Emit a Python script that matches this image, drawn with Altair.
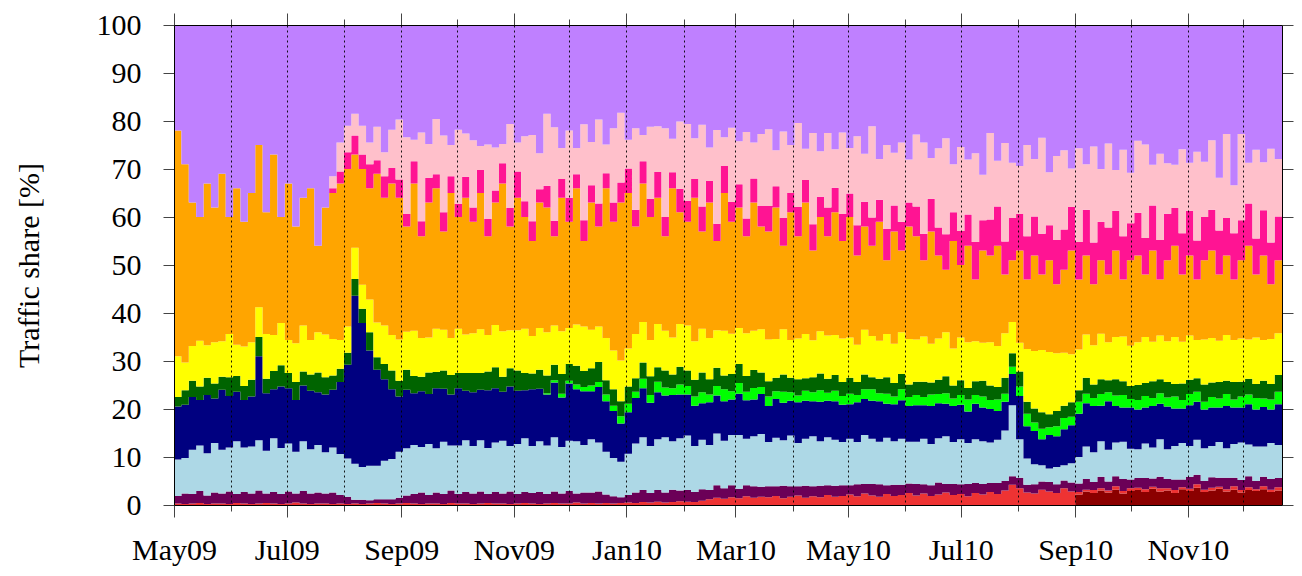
import altair as alt
import pandas as pd

# ---- time axis: one value every 4 days starting 1 May 2009 ----
START = "2009-05-01"
STEP_DAYS = 4

# ---- traffic shares [%] (bottom band first) ----
dark_red = [
    0, 0, 0, 0, 0, 0, 0, 0, 0, 0,
    0, 0, 0, 0, 0, 0, 0, 0, 0, 0,
    0, 0, 0, 0, 0, 0, 0, 0, 0, 0,
    0, 0, 0, 0, 0, 0, 0, 0, 0, 0,
    0, 0, 0, 0, 0, 0, 0, 0, 0, 0,
    0, 0, 0, 0, 0, 0, 0, 0, 0, 0,
    0, 0, 0, 0, 0, 0, 0, 0, 0, 0,
    0, 0, 0, 0, 0, 0, 0, 0, 0, 0,
    0, 0, 0, 0, 0, 0, 0, 0, 0, 0,
    0, 0, 0, 0, 0, 0, 0, 0, 0, 0,
    0, 0, 0, 0, 0, 0, 0, 0, 0, 0,
    0, 0, 0, 0, 0, 0, 0, 0, 0, 0,
    0, 0, 2.2, 2.8, 2.5, 3.0, 2.6, 3.2, 2.4, 2.9,
    3.1, 2.7, 3.4, 2.8, 3.0, 2.5, 3.3, 2.9, 3.6, 2.7,
    3.0, 3.4, 2.8, 3.2, 2.6, 3.1, 2.9, 3.3, 2.7, 3.0,
]
red = [
    0.3, 0.2, 0.3, 0.4, 0.2, 0.3, 0.3, 0.2, 0.4, 0.3,
    0.2, 0.3, 0.4, 0.3, 0.2, 0.3, 0.5, 0.3, 0.2, 0.3,
    0.3, 0.2, 0.3, 0.2, 0.3, 0.2, 0.3, 0.4, 0.3, 0.2,
    0.3, 0.4, 0.3, 0.2, 0.3, 0.3, 0.2, 0.4, 0.3, 0.3,
    0.2, 0.3, 0.4, 0.3, 0.3, 0.2, 0.3, 0.4, 0.3, 0.2,
    0.3, 0.4, 0.3, 0.3, 0.5, 0.3, 0.4, 0.3, 0.4, 0.3,
    0.4, 0.5, 0.4, 0.6, 0.5, 0.7, 0.5, 0.6, 0.8, 0.7,
    0.6, 0.9, 1.2, 1.5, 1.3, 1.6, 1.4, 1.8, 1.5, 1.7,
    1.6, 1.9, 1.4, 1.7, 2.0, 1.5, 1.8, 1.6, 2.1, 1.7,
    1.9, 2.2, 1.8, 2.4, 2.0, 1.7, 2.3, 1.9, 2.1, 2.5,
    2.0, 2.4, 1.9, 2.2, 2.6, 2.1, 2.3, 1.8, 2.5, 2.2,
    2.7, 2.3, 3.0, 4.2, 3.5, 2.6, 2.4, 3.2, 2.8, 2.5,
    3.5, 2.8, 0.5, 0.4, 0.6, 0.5, 0.4, 0.7, 0.5, 0.6,
    0.5, 0.6, 0.4, 0.7, 0.5, 0.6, 0.4, 0.5, 0.7, 0.5,
    0.6, 0.4, 0.5, 0.7, 0.5, 0.6, 0.4, 0.6, 0.5, 0.7,
]
purple = [
    1.6, 2.2, 2.0, 2.5, 1.8, 2.3, 2.1, 2.6, 1.9, 2.4,
    2.2, 2.7, 2.0, 2.4, 2.1, 2.5, 1.9, 2.6, 2.2, 2.3,
    2.1, 2.4, 1.8, 1.5, 0.8, 0.9, 0.7, 0.8, 0.9, 1.0,
    1.2, 1.6, 2.0, 2.4, 1.8, 2.3, 2.1, 2.6, 2.0, 2.4,
    2.2, 2.5, 1.9, 2.4, 2.1, 2.6, 2.0, 2.3, 2.2, 2.5,
    2.0, 2.4, 2.1, 2.6, 1.9, 2.3, 2.2, 2.5, 1.8, 1.5,
    1.2, 1.6, 2.2, 2.5, 2.0, 2.4, 2.1, 2.6, 2.2, 2.4,
    2.1, 2.4, 1.9, 2.6, 2.2, 2.5, 2.0, 2.3, 2.4, 2.1,
    2.3, 2.0, 2.6, 2.2, 1.9, 2.5, 2.1, 2.4, 2.0, 2.3,
    2.2, 1.9, 2.5, 2.0, 2.4, 2.6, 1.8, 2.3, 2.1, 2.0,
    2.4, 1.9, 2.2, 2.5, 1.8, 2.3, 2.0, 2.6, 2.1, 2.2,
    1.9, 2.3, 2.0, 1.8, 2.2, 1.6, 1.9, 1.7, 2.0, 1.8,
    1.6, 1.9, 1.8, 2.2, 1.7, 2.4, 1.9, 2.1, 2.5, 1.8,
    2.0, 2.3, 1.7, 2.4, 1.9, 2.2, 1.6, 2.5, 2.0, 1.8,
    2.2, 1.9, 2.4, 1.8, 2.1, 2.3, 1.7, 2.0, 2.2, 1.9,
]
light_blue = [
    7.6, 7.4, 9.2, 9.5, 8.8, 10.3, 9.1, 9.2, 11.0, 9.3,
    9.8, 10.5, 8.9, 11.2, 9.6, 10.0, 8.7, 10.4, 9.2, 9.9,
    8.6, 9.4, 8.5, 8.0, 7.5, 6.8, 7.2, 7.0, 8.0, 8.4,
    9.6, 9.8, 10.2, 9.5, 10.6, 9.2, 10.9, 9.4, 10.1, 10.8,
    9.9, 10.7, 9.6, 10.3, 11.0, 9.5, 10.4, 11.2, 9.8, 10.6,
    10.1, 11.3, 9.7, 10.5, 10.9, 9.9, 11.1, 10.2, 8.9, 8.0,
    7.4, 8.6, 10.2, 11.0, 9.8, 10.6, 11.5, 10.1, 10.9, 11.4,
    9.6, 10.3, 9.4, 10.8, 9.9, 10.5, 11.2, 9.7, 10.4, 11.0,
    9.2, 10.1, 9.5, 10.6, 9.0, 9.8, 10.4, 9.3, 10.0, 9.6,
    9.0, 9.7, 8.8, 10.2, 9.4, 8.9, 9.9, 9.1, 9.6, 8.7,
    8.8, 9.5, 8.6, 9.2, 9.9, 8.7, 9.4, 8.5, 9.1, 8.9,
    8.4, 9.0, 10.5, 14.8, 8.0, 5.5, 4.2, 3.4, 2.8, 3.6,
    3.2, 4.0, 5.5, 6.8, 6.2, 7.4, 6.6, 7.0, 7.8, 6.4,
    6.0, 7.2, 6.5, 7.8, 6.2, 7.0, 7.6, 6.4, 7.3, 6.8,
    6.5, 7.4, 6.1, 7.0, 7.8, 6.6, 7.2, 6.3, 7.5, 6.9,
]
navy = [
    11.0, 11.1, 11.0, 9.5, 12.1, 9.3, 12.5, 10.7, 10.3, 9.9,
    10.4, 17.5, 12.0, 10.2, 12.8, 11.5, 10.8, 11.6, 12.2, 11.0,
    12.0, 12.0, 15.0, 19.5, 35.0, 30.0, 24.0, 20.0, 17.0, 14.5,
    11.5, 12.2, 10.8, 11.6, 10.4, 12.5, 11.0, 10.6, 11.9, 10.3,
    11.2, 10.5, 12.0, 11.3, 10.2, 12.4, 11.1, 10.0, 11.8, 10.9,
    10.6, 11.4, 10.3, 11.9, 10.8, 11.2, 10.0, 11.6, 10.5, 9.8,
    8.0, 8.6, 9.5, 10.2, 9.0, 9.8, 8.7, 9.6, 9.1, 8.5,
    8.4, 7.6, 8.9, 7.9, 8.2, 7.4, 8.6, 8.0, 7.7, 8.3,
    7.5, 8.1, 7.8, 7.2, 8.5, 7.9, 7.3, 8.2, 7.6, 8.0,
    7.8, 7.2, 8.3, 7.5, 7.9, 8.4, 7.1, 7.7, 8.0, 7.4,
    7.6, 7.0, 7.9, 7.3, 6.8, 7.5, 7.2, 6.6, 7.4, 7.0,
    7.0, 6.0, 6.0, 6.5, 9.0, 6.7, 6.9, 5.4, 7.0, 6.4,
    7.5, 7.9, 9.0, 9.0, 9.6, 7.4, 10.1, 7.6, 7.1, 8.6,
    8.3, 7.5, 8.6, 7.4, 8.9, 7.8, 7.2, 8.5, 7.9, 8.1,
    8.0, 7.2, 8.8, 7.6, 7.3, 8.4, 7.7, 8.2, 7.0, 8.5,
]
lime = [
    0, 0, 0, 0, 0, 0, 0, 0, 0, 0,
    0, 0, 0, 0, 0, 0, 0, 0, 0, 0,
    0, 0, 0, 0, 0, 0, 0, 0, 0, 0,
    0, 0, 0, 0, 0, 0, 0, 0, 0, 0,
    0, 0, 0, 0, 0, 0, 0, 0, 0, 0,
    0.3, 0.5, 0.8, 0.6, 1.0, 0.9, 1.2, 1.0, 1.4, 1.1,
    1.5, 1.8, 1.3, 2.0, 1.6, 2.2, 1.7, 1.4, 2.1, 1.8,
    1.9, 2.3, 1.6, 2.0, 2.5, 1.7, 2.2, 1.8, 2.4, 1.5,
    2.0, 1.6, 2.3, 1.8, 1.4, 2.1, 1.9, 2.4, 1.7, 2.2,
    1.8, 2.2, 1.5, 2.0, 2.4, 1.7, 2.1, 1.6, 2.3, 1.9,
    2.1, 1.7, 2.4, 1.9, 2.2, 1.6, 2.0, 2.5, 1.8, 2.3,
    1.9, 2.4, 1.7, 1.5, 2.0, 2.6, 1.8, 2.2, 1.6, 2.1,
    2.3, 1.8, 2.5, 2.0, 1.7, 2.4, 1.9, 2.2, 2.6, 1.8,
    2.0, 2.4, 1.7, 2.2, 1.9, 2.5, 1.8, 2.3, 2.1, 1.6,
    2.2, 1.9, 2.5, 1.7, 2.3, 2.0, 2.4, 1.8, 2.1, 2.6,
]
dark_green = [
    2.0, 3.0, 3.4, 2.8, 3.6, 3.1, 2.7, 3.9, 3.3, 2.9,
    3.5, 4.0, 3.0, 3.8, 4.4, 3.2, 3.7, 2.9, 3.4, 4.1,
    3.6, 3.0, 2.8, 2.5, 3.5, 3.0, 3.8, 2.6, 3.2, 3.9,
    3.3, 4.2, 3.6, 3.0, 4.5, 3.4, 3.8, 4.1, 3.2, 3.7,
    4.0, 3.5, 3.9, 4.4, 3.1, 3.8, 4.2, 3.6, 3.3, 4.0,
    3.7, 3.2, 4.1, 3.5, 3.9, 3.3, 3.6, 4.2, 3.0, 3.4,
    3.1, 3.6, 2.8, 3.4, 3.9, 3.0, 3.5, 2.9, 3.7, 3.2,
    3.5, 4.1, 3.2, 3.8, 2.9, 3.6, 4.0, 3.3, 3.7, 3.0,
    3.2, 2.8, 3.6, 3.0, 3.4, 2.6, 3.1, 3.5, 2.9, 3.3,
    2.9, 3.3, 2.7, 3.1, 2.5, 3.0, 3.4, 2.8, 3.2, 2.6,
    2.8, 3.2, 2.5, 3.0, 3.5, 2.7, 3.1, 2.4, 2.9, 3.3,
    3.0, 2.6, 3.3, 2.8, 3.1, 2.5, 2.9, 3.4, 2.7, 3.2,
    2.6, 3.0, 2.4, 3.3, 2.8, 3.1, 2.5, 3.4, 2.9, 2.7,
    3.1, 2.7, 3.5, 2.9, 3.2, 2.6, 3.4, 3.0, 2.8, 3.6,
    3.0, 3.4, 2.8, 3.6, 3.1, 3.3, 2.9, 3.7, 3.2, 3.5,
]
yellow = [
    8.5, 5.8, 7.2, 9.5, 6.8, 8.6, 7.4, 9.0, 6.5, 8.2,
    7.8, 6.2, 9.3, 7.5, 8.8, 6.9, 8.1, 9.6, 7.2, 8.4,
    8.9, 7.6, 6.0, 5.5, 6.5, 5.0, 6.8, 7.2, 8.0, 7.4,
    8.6, 7.9, 9.4, 8.1, 7.3, 9.0, 8.5, 7.7, 9.2, 8.0,
    8.3, 9.1, 7.6, 8.8, 9.5, 7.9, 8.4, 9.2, 7.8, 8.7,
    9.0, 8.2, 8.9, 7.5, 8.6, 9.3, 8.0, 7.4, 8.8, 8.1,
    8.5, 7.9, 9.2, 8.4, 7.6, 9.0, 8.3, 7.7, 8.9, 9.4,
    8.0, 9.1, 8.6, 7.8, 9.3, 8.4, 7.5, 8.9, 8.2, 9.0,
    8.7, 8.1, 9.4, 7.9, 8.5, 9.2, 7.7, 8.8, 9.0, 8.3,
    9.1, 8.4, 7.8, 9.3, 8.6, 7.9, 9.0, 8.2, 8.7, 9.5,
    8.8, 9.4, 8.1, 8.6, 9.2, 7.7, 8.9, 9.5, 8.3, 7.9,
    9.0, 8.5, 9.3, 6.5, 6.0, 11.0, 12.0, 13.0, 13.0, 12.0,
    11.0, 10.0, 8.5, 9.0, 8.2, 9.5, 7.9, 8.8, 9.3, 8.4,
    8.9, 9.6, 8.2, 9.1, 8.5, 9.8, 8.7, 9.2, 8.0, 9.4,
    9.3, 8.6, 9.5, 8.8, 9.0, 8.2, 9.7, 8.5, 9.4, 8.7,
]
# upper edge of the orange band [%]
orange_top = [
    78, 71, 63, 60, 67, 62, 69, 60, 66, 59,
    65, 75, 61, 73, 60, 67, 58, 64, 66, 54,
    62, 65, 67, 70, 73, 70, 66, 69, 64, 67,
    64, 58, 67, 56, 63, 66, 57, 65, 60, 64,
    59, 65, 56, 63, 67, 58, 64, 60, 55, 63,
    62, 56, 64, 59, 66, 55, 63, 58, 66, 59,
    63, 65, 58, 67, 60, 64, 56, 66, 61, 59,
    64, 57, 63, 55, 65, 59, 62, 56, 63, 58,
    57, 62, 54, 61, 56, 63, 53, 60, 56, 61,
    55, 60, 52, 58, 54, 59, 51, 57, 53, 58,
    56, 51, 57, 52, 49, 55, 50, 54, 47, 53,
    52, 54, 48, 51, 53, 47, 52, 48, 51, 46,
    49, 53, 47, 52, 46, 51, 48, 53, 47, 51,
    52, 48, 53, 47, 51, 54, 48, 52, 47, 51,
    53, 48, 52, 47, 51, 54, 48, 52, 46, 51,
]
deep_pink = [
    0, 0, 0, 0, 0, 0, 0, 0, 0, 0,
    0, 0, 0, 0, 0, 0, 0, 0, 0, 0,
    0, 1.0, 2.5, 3.5, 4.0, 3.0, 5.0, 2.8, 4.5, 3.2,
    3.8, 2.6, 4.6, 3.1, 5.2, 2.9, 4.0, 3.5, 2.7, 4.4,
    3.0, 4.8, 3.6, 2.5, 4.2, 3.9, 5.5, 3.3, 4.1, 2.8,
    4.5, 3.2, 3.9, 5.0, 2.9, 4.3, 3.6, 4.8, 3.1, 4.0,
    4.2, 5.1, 3.5, 4.6, 3.8, 5.4, 4.0, 3.3, 4.9, 4.4,
    3.9, 5.2, 4.5, 3.6, 5.6, 4.1, 4.8, 3.7, 5.0, 4.3,
    5.3, 4.4, 5.8, 4.0, 6.1, 4.7, 5.5, 4.2, 6.0, 5.1,
    5.6, 4.9, 6.3, 5.2, 5.9, 4.6, 6.5, 5.4, 6.0, 5.0,
    6.2, 5.5, 6.8, 5.8, 7.4, 6.0, 7.1, 6.5, 7.8, 6.3,
    7.5, 8.2, 6.9, 8.8, 7.6, 9.0, 8.1, 8.5, 7.3, 9.2,
    8.4, 9.1, 7.8, 9.5, 8.7, 8.0, 9.8, 8.3, 9.0, 7.7,
    8.9, 7.6, 9.4, 8.2, 9.7, 7.9, 8.6, 9.3, 8.1, 9.0,
    8.5, 9.2, 7.8, 9.6, 8.3, 8.8, 7.5, 9.4, 8.7, 9.1,
]
pink = [
    0, 0, 0, 0, 0, 0, 0, 0, 0, 0,
    0, 0, 0, 0, 0, 0, 0, 0, 0, 0,
    0, 2.5, 6.0, 5.5, 4.5, 6.0, 4.5, 7.0, 5.0, 8.0,
    12.5, 16.0, 4.5, 18.5, 7.0, 11.5, 16.0, 6.5, 15.5, 9.0,
    14.0, 5.0, 15.5, 9.0, 4.0, 17.5, 6.0, 13.5, 18.0, 7.5,
    15.0, 19.5, 6.5, 14.0, 5.5, 20.0, 9.0, 17.5, 6.0, 15.5,
    14.5, 6.0, 17.0, 5.5, 15.0, 9.5, 18.5, 7.0, 14.0, 16.0,
    8.5, 17.0, 7.0, 19.5, 6.0, 15.5, 9.0, 18.0, 7.5, 15.0,
    16.0, 7.5, 18.0, 10.0, 17.5, 6.5, 19.0, 9.5, 15.5, 8.0,
    17.0, 9.5, 18.5, 10.0, 19.0, 8.5, 17.5, 11.0, 16.5, 9.0,
    15.0, 19.0, 8.5, 16.5, 20.0, 10.0, 17.5, 11.5, 18.5, 9.5,
    18.0, 9.5, 20.5, 11.5, 10.0, 19.0, 12.0, 20.0, 11.0, 17.5,
    16.5, 8.0, 19.5, 9.5, 20.0, 11.0, 17.5, 8.5, 18.0, 10.5,
    15.0, 19.5, 8.5, 18.0, 10.5, 9.0, 17.5, 10.0, 18.5, 11.5,
    14.5, 11.0, 17.5, 10.0, 18.0, 8.5, 18.5, 10.0, 19.5, 12.0,
]

series_names = ["dark red", "red", "purple", "light blue", "navy", "lime",
                "dark green", "yellow", "orange", "deep pink", "pink", "rest"]
series_colors = ["#8B0000", "#EE3333", "#6B0057", "#ADD8E6", "#000080", "#00FF00",
                 "#006400", "#FFFF00", "#FFA500", "#FF1493", "#FFC0CB", "#BF80FF"]

# ---- build the long table ----
n = len(purple)
dates = pd.date_range(START, periods=n, freq=f"{STEP_DAYS}D")
end_date = dates[-1] + pd.Timedelta(days=STEP_DAYS)
lower = [dark_red, red, purple, light_blue, navy, lime, dark_green, yellow]
below = [sum(s[i] for s in lower) for i in range(n)]
orange = [max(orange_top[i] - below[i], 0.0) for i in range(n)]
rest = [100.0 - below[i] - orange[i] - deep_pink[i] - pink[i] for i in range(n)]
all_series = lower + [orange, deep_pink, pink, rest]

rows = []
for k, (name, vals) in enumerate(zip(series_names, all_series)):
    for i in range(n):
        rows.append({"date": dates[i].strftime("%Y-%m-%d"), "series": name, "rank": k, "share": vals[i]})
    rows.append({"date": end_date.strftime("%Y-%m-%d"), "series": name, "rank": k, "share": vals[-1]})
df = pd.DataFrame(rows)

def ms(ts):
    return int(pd.Timestamp(ts).value // 10**6)

month_ticks = [ms(d) for d in pd.date_range(START, end_date, freq="MS")]
x_domain = [ms(START), ms(end_date)]

FONT = "Liberation Serif"
FS = 30
major = "utcmonth(datum.value) % 2 == 0"
tick_len = {"condition": {"test": major, "value": 12}, "value": 6}

x_scale = alt.Scale(type="utc", domain=x_domain, nice=False)
y_scale = alt.Scale(domain=[0, 100], nice=False)

area = alt.Chart(df).mark_area(interpolate="step-after").encode(
    x=alt.X("date:T", scale=x_scale, title=None,
            axis=alt.Axis(values=month_ticks, labelExpr=f"{major} ? utcFormat(datum.value, '%b%y') : ''",
                          tickSize=tick_len, tickColor="#444", domainColor="black",
                          labelFont=FONT, labelFontSize=FS, labelColor="black",
                          labelPadding=18, labelOverlap=False, labelFlush=False,
                          grid=True, gridColor="black", gridDash=[2, 3], gridWidth=1, gridOpacity=0.9,
                          zindex=1)),
    y=alt.Y("share:Q", stack="zero", scale=y_scale, title="Traffic share [%]",
            axis=alt.Axis(values=list(range(0, 101, 10)), tickSize=11, tickColor="#444",
                          domainColor="black", labelFont=FONT, labelFontSize=FS, labelColor="black",
                          labelPadding=22, grid=False, titleFont=FONT, titleFontSize=FS,
                          titleFontWeight="normal", titleColor="black", titlePadding=52, zindex=1)),
    color=alt.Color("series:N", scale=alt.Scale(domain=series_names, range=series_colors), legend=None),
    order=alt.Order("rank:Q", sort="ascending"),
)

frame = alt.Chart(df.head(1)).mark_point(opacity=0).encode(
    x=alt.X("date:T", scale=x_scale, title=None,
            axis=alt.Axis(orient="top", values=month_ticks, labels=False, tickSize=tick_len,
                          tickColor="#444", domainColor="black", grid=False, zindex=1)),
    y=alt.Y("share:Q", scale=y_scale, title=None,
            axis=alt.Axis(orient="right", values=list(range(0, 101, 10)), labels=False, tickSize=11,
                          tickColor="#444", domainColor="black", grid=False, zindex=1)),
)

chart = alt.layer(area, frame).resolve_axis(x="independent", y="independent").properties(
    width=1108, height=480,
    autosize=alt.AutoSizeParams(type="none"),
    padding={"left": 166, "top": 17, "right": 12, "bottom": 63},
).configure_view(stroke=None).configure(background="white")

chart.save("out.html", embed_options={"renderer": "svg", "actions": False})
